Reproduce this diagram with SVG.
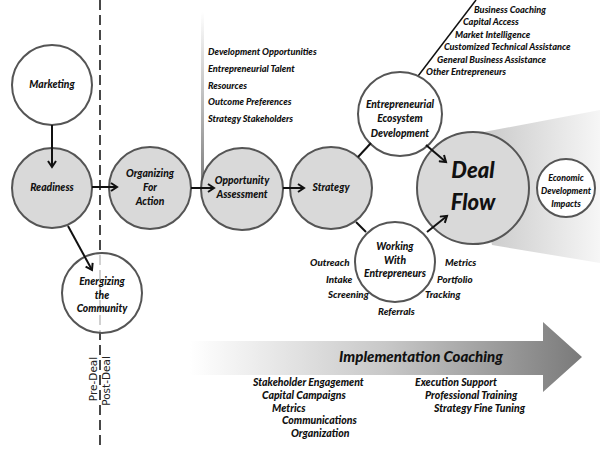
<svg xmlns="http://www.w3.org/2000/svg" width="600" height="450" viewBox="0 0 600 450">
<defs>
<style>
.t{font-family:Lato,"Liberation Sans",sans-serif;font-weight:900;font-style:italic;fill:#111;}
.n{font-size:10.3px;text-anchor:middle;}
.l{font-size:9.2px;}
.k{font-size:10.5px;}
.g{fill:#d9d9d9;stroke:#555;stroke-width:2;}
.w{fill:#fff;stroke:#555;stroke-width:2;}
.c{stroke:#111;stroke-width:2;fill:none;}
</style>
<marker id="ah" markerWidth="10" markerHeight="10" refX="7" refY="5" orient="auto" markerUnits="userSpaceOnUse">
<path d="M1,1 L7,5 L1,9" fill="none" stroke="#111" stroke-width="2"/>
</marker>
<linearGradient id="wedge" x1="0" y1="0" x2="1" y2="0">
<stop offset="0" stop-color="#c4c4c4"/>
<stop offset="1" stop-color="#f6f6f6"/>
</linearGradient>
<linearGradient id="arr" x1="0" y1="0" x2="1" y2="0">
<stop offset="0" stop-color="#ffffff"/>
<stop offset="0.5" stop-color="#c8c8c8"/>
<stop offset="1" stop-color="#7a7a7a"/>
</linearGradient>
<linearGradient id="vl" x1="0" y1="0" x2="0" y2="1">
<stop offset="0" stop-color="#ffffff"/>
<stop offset="1" stop-color="#7a7a7a"/>
</linearGradient>
</defs>
<rect width="600" height="450" fill="#fff"/>

<polygon points="468,135 600,110 600,263 492,245" fill="url(#wedge)"/>
<rect x="201" y="12" width="3" height="178" fill="url(#vl)"/>
<polygon points="190,341 543,341 543,322 582,357 543,392 543,375 190,375" fill="url(#arr)"/>
<line x1="100" y1="0" x2="100" y2="450" stroke="#333" stroke-width="1.8" stroke-dasharray="10,5"/>
<line x1="415" y1="80" x2="476" y2="0" stroke="#111" stroke-width="1.5"/>

<g id="marketing"><circle class="w" cx="52" cy="85" r="40"/><text class="t n" x="52" y="88">Marketing</text></g>
<g id="readiness"><circle class="g" cx="52" cy="188" r="40"/><text class="t n" x="52" y="191">Readiness</text></g>
<g id="organizing"><circle class="g" cx="150" cy="188" r="41"/>
<text class="t n" x="150" y="177">Organizing</text><text class="t n" x="150" y="191">For</text><text class="t n" x="150" y="205">Action</text></g>
<g id="energizing"><circle class="w" cx="102" cy="293" r="40" fill-opacity="0.75"/>
<text class="t n" x="102" y="285">Energizing</text><text class="t n" x="102" y="299">the</text><text class="t n" x="102" y="312">Community</text></g>
<g id="opportunity"><circle class="g" cx="242" cy="189" r="41"/>
<text class="t n" x="242" y="184">Opportunity</text><text class="t n" x="242" y="198">Assessment</text></g>
<g id="strategy"><circle class="g" cx="331" cy="188" r="41"/><text class="t n" x="331" y="191">Strategy</text></g>
<g id="ecosystem"><circle class="w" cx="400" cy="114" r="42"/>
<text class="t n" x="400" y="108">Entrepreneurial</text><text class="t n" x="400" y="122">Ecosystem</text><text class="t n" x="400" y="137">Development</text></g>
<g id="working"><circle class="w" cx="395" cy="262" r="40"/>
<text class="t n" x="395" y="250">Working</text><text class="t n" x="395" y="264">With</text><text class="t n" x="395" y="277">Entrepreneurs</text></g>
<g id="dealflow"><circle class="g" cx="473" cy="188" r="56"/>
<text class="t" x="473" y="178" font-size="22" text-anchor="middle">Deal</text><text class="t" x="473" y="210" font-size="22" text-anchor="middle">Flow</text></g>
<g id="impacts"><circle class="w" cx="566" cy="188" r="29"/>
<text class="t" x="566" y="181" font-size="8.8" text-anchor="middle">Economic</text><text class="t" x="566" y="194" font-size="8.8" text-anchor="middle">Development</text><text class="t" x="566" y="207" font-size="8.8" text-anchor="middle">Impacts</text></g>

<g id="connectors">
<line class="c" x1="52" y1="125" x2="52" y2="167" marker-end="url(#ah)"/>
<line class="c" x1="92" y1="187" x2="117" y2="187" marker-end="url(#ah)"/>
<line class="c" x1="68" y1="226" x2="92" y2="270" marker-end="url(#ah)"/>
<line class="c" x1="191" y1="188" x2="214" y2="188" marker-end="url(#ah)"/>
<line class="c" x1="283" y1="188" x2="304" y2="188" marker-end="url(#ah)"/>
<line class="c" x1="358" y1="157" x2="371" y2="143"/>
<line class="c" x1="356" y1="222" x2="366" y2="232"/>
<line class="c" x1="426" y1="145" x2="446" y2="162" marker-end="url(#ah)"/>
<line class="c" x1="427" y1="232" x2="447" y2="216" marker-end="url(#ah)"/>
</g>

<g id="opp-list" class="t l">
<text x="208" y="55">Development Opportunities</text>
<text x="208" y="72">Entrepreneurial Talent</text>
<text x="208" y="89">Resources</text>
<text x="208" y="105">Outcome Preferences</text>
<text x="208" y="122">Strategy Stakeholders</text>
</g>
<g id="eco-list" class="t l">
<text x="474" y="13">Business Coaching</text>
<text x="463" y="25">Capital Access</text>
<text x="455" y="38">Market Intelligence</text>
<text x="444" y="50">Customized Technical Assistance</text>
<text x="437" y="63">General Business Assistance</text>
<text x="426" y="75">Other Entrepreneurs</text>
</g>
<g id="work-list" class="t" font-size="9.8">
<text x="310" y="266">Outreach</text>
<text x="326" y="283">Intake</text>
<text x="328" y="298">Screening</text>
<text x="378" y="315">Referrals</text>
<text x="445" y="266">Metrics</text>
<text x="437" y="283">Portfolio</text>
<text x="425" y="298">Tracking</text>
</g>
<g id="coaching">
<text class="t" x="421" y="362" font-size="15" font-weight="700" text-anchor="middle" fill="#222">Implementation Coaching</text>
</g>
<g id="coach-list" class="t k">
<text x="253" y="386">Stakeholder Engagement</text>
<text x="262" y="399">Capital Campaigns</text>
<text x="272" y="412">Metrics</text>
<text x="282" y="424">Communications</text>
<text x="291" y="437">Organization</text>
<text x="415" y="386">Execution Support</text>
<text x="425" y="399">Professional Training</text>
<text x="434" y="412">Strategy Fine Tuning</text>
</g>
<g id="phase" font-family="'DejaVu Sans',sans-serif" font-size="10.5" fill="#222">
<text transform="translate(97,379) rotate(-90)" text-anchor="middle">Pre-Deal</text>
<text transform="translate(110,381) rotate(-90)" text-anchor="middle">Post-Deal</text>
</g>
</svg>
